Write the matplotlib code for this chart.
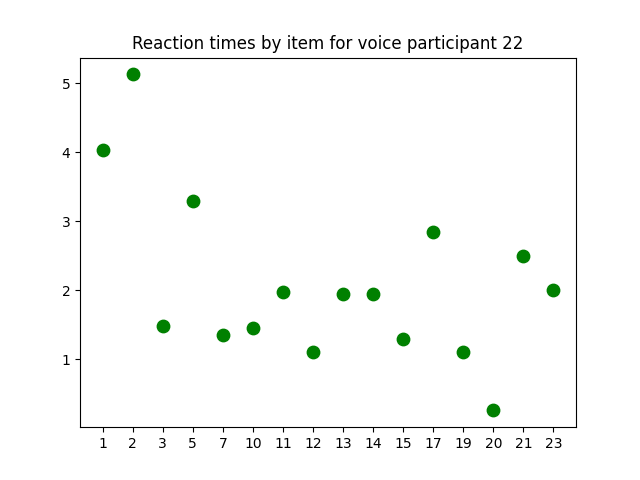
import matplotlib
matplotlib.use("Agg")
import matplotlib.pyplot as plt

items = ["1", "2", "3", "5", "7", "10", "11", "12", "13", "14", "15", "17", "19", "20", "21", "23"]
reaction_times = [4.04, 5.13, 1.49, 3.30, 1.35, 1.45, 1.97, 1.10, 1.94, 1.94, 1.30, 2.85, 1.11, 0.26, 2.50, 2.01]

fig, ax = plt.subplots(figsize=(6.4, 4.8), dpi=100)
ax.scatter(items, reaction_times, color="green", s=80)
ax.set_title("Reaction times by item for voice participant 22")
fig.savefig("out.png")
